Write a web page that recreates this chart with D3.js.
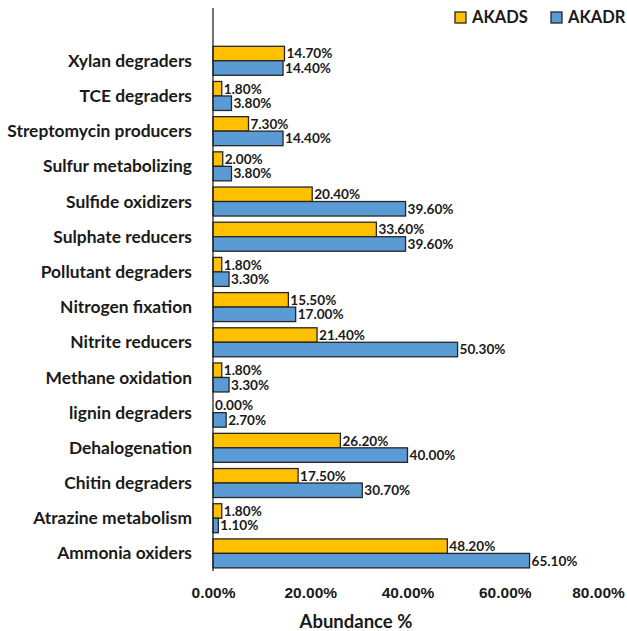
<!DOCTYPE html>
<html>
<head>
<meta charset="utf-8">
<script src="https://cdn.jsdelivr.net/npm/d3@7/dist/d3.min.js"></script>
<style>
  html, body { margin: 0; padding: 0; background: #fff; }
  svg { display: block; font-family: Lato, "Open Sans", "Liberation Sans", sans-serif; font-weight: bold; }
</style>
</head>
<body>
<svg id="chart" width="627" height="631"></svg>
<script>
// Functional categories, listed top to bottom
const categories = [
  "Xylan degraders", "TCE degraders", "Streptomycin producers", "Sulfur metabolizing",
  "Sulfide oxidizers", "Sulphate reducers", "Pollutant degraders", "Nitrogen fixation",
  "Nitrite reducers", "Methane oxidation", "lignin degraders", "Dehalogenation",
  "Chitin degraders", "Atrazine metabolism", "Ammonia oxiders"
];
const akads = [14.7, 1.8, 7.3, 2.0, 20.4, 33.6, 1.8, 15.5, 21.4, 1.8, 0.0, 26.2, 17.5, 1.8, 48.2];
const akadr = [14.4, 3.8, 14.4, 3.8, 39.6, 39.6, 3.3, 17.0, 50.3, 3.3, 2.7, 40.0, 30.7, 1.1, 65.1];
const seriesNames = ["AKADS", "AKADR"];
const seriesColors = ["#FFC000", "#5B9BD5"];
const xTicks = [0, 20, 40, 60, 80];

const svg = d3.select("#chart");
const W = 627;
const left = 213, right = 602, plotTop = 8, plotBottom = 571;
const band = (plotBottom - plotTop) / (categories.length + 1);

const x = d3.scaleLinear().domain([0, 80]).range([left, right]);
const y = d3.scaleBand().domain(categories).range([plotTop + band, plotBottom]).paddingInner(0.176).paddingOuter(0.088);
const ySub = d3.scaleBand().domain(seriesNames).range([0, y.bandwidth()]);

const rows = categories.map((c, i) => ({ cat: c, vals: [akads[i], akadr[i]] }));

const groups = svg.append("g").selectAll("g").data(rows).join("g")
  .attr("transform", d => `translate(0,${y(d.cat)})`);

groups.selectAll("rect").data(d => d.vals.map((v, j) => ({ v, j }))).join("rect")
  .attr("x", x(0))
  .attr("y", d => ySub(seriesNames[d.j]))
  .attr("width", d => x(d.v) - x(0))
  .attr("height", ySub.bandwidth())
  .attr("fill", d => seriesColors[d.j])
  .attr("stroke", d => d.v > 0 ? "#262626" : "none")
  .attr("stroke-width", 1.3);

groups.selectAll("text").data(d => d.vals.map((v, j) => ({ v, j }))).join("text")
  .attr("x", d => x(d.v) + 2)
  .attr("y", d => ySub(seriesNames[d.j]) + ySub.bandwidth() / 2)
  .attr("dy", "0.36em")
  .attr("font-size", 13.6)
  .attr("fill", "#1a1a1a")
  .text(d => d.v.toFixed(2) + "%");

// Category labels
svg.append("g").selectAll("text").data(categories).join("text")
  .attr("x", 192)
  .attr("y", d => y(d) + y.bandwidth() / 2)
  .attr("dy", "0.35em")
  .attr("text-anchor", "end")
  .attr("font-size", 17.4)
  .attr("fill", "#1a1a1a")
  .text(d => d);

// Vertical category axis line
svg.append("line")
  .attr("x1", left).attr("x2", left)
  .attr("y1", plotTop).attr("y2", plotBottom)
  .attr("stroke", "#262626").attr("stroke-width", 1.3);

// Value axis tick labels (no axis line)
const xAxis = svg.append("g").attr("transform", `translate(0,${plotBottom})`)
  .call(d3.axisBottom(x).tickValues(xTicks).tickSize(0).tickPadding(16).tickFormat(d => d.toFixed(2) + "%"));
xAxis.select(".domain").remove();
xAxis.selectAll("text").attr("font-size", 15.5).attr("font-family", null).attr("font-weight", "bold").attr("fill", "#1a1a1a");
// Keep the last tick label inside the canvas
xAxis.selectAll("text").each(function () {
  const b = this.getBBox();
  const tx = +d3.select(this.parentNode).attr("transform").match(/translate\(([-\d.]+)/)[1];
  const overflow = tx + b.x + b.width - (W - 2);
  if (overflow > 0) d3.select(this).attr("x", -overflow);
});

svg.append("text")
  .attr("x", 356).attr("y", 622)
  .attr("dy", "0.35em")
  .attr("text-anchor", "middle")
  .attr("font-size", 18.5)
  .attr("fill", "#1a1a1a")
  .text("Abundance %");

// Legend
const legendX = [455, 551];
const legend = svg.append("g").selectAll("g").data(seriesNames).join("g")
  .attr("transform", (d, i) => `translate(${legendX[i]},12)`);
legend.append("rect")
  .attr("width", 11).attr("height", 11)
  .attr("fill", (d, i) => seriesColors[i])
  .attr("stroke", "#262626").attr("stroke-width", 1.3);
legend.append("text")
  .attr("x", 17).attr("y", 5.5).attr("dy", "0.36em")
  .attr("font-size", 16.5)
  .attr("fill", "#1a1a1a")
  .text(d => d);
</script>
</body>
</html>
